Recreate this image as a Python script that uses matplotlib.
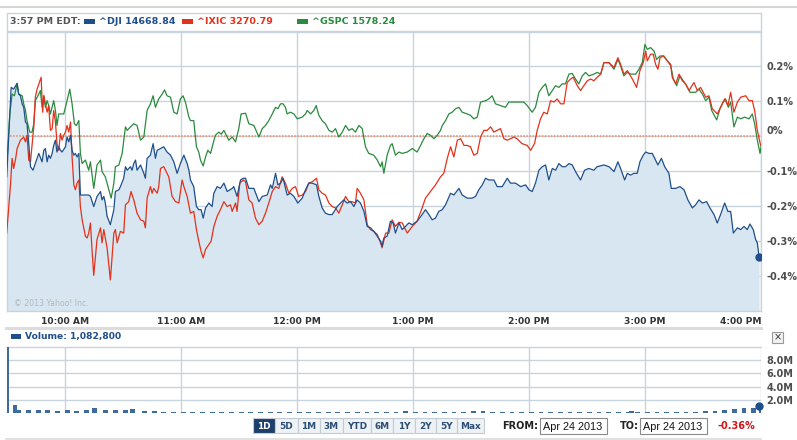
import matplotlib

matplotlib.use("Agg")
import matplotlib.pyplot as plt  # noqa: E402
import matplotlib.transforms as mtransforms  # noqa: E402
from matplotlib.lines import Line2D  # noqa: E402
from matplotlib.patches import Rectangle  # noqa: E402

# minutes after the 9:30 open, % change from the previous close
DJI_MIN = [
    0, 2.3, 3.6, 5.4, 6.2, 7.1, 8.0, 8.8, 9.7, 10.5, 11.4, 12.3, 13.6, 14.8, 16.6,
    18.3, 19.2, 20.0, 20.9, 21.7, 22.6, 23.5, 24.3, 25.2, 26.0, 26.9, 27.8, 28.6,
    30.4, 31.2, 32.1, 33.0, 33.8, 34.7, 35.5, 36.4, 37.3, 38.1, 39.8, 42.4, 43.3,
    45.0, 46.7, 48.5, 49.3, 50.2, 51.0, 51.9, 53.6, 55.4, 56.2, 58.0, 58.8, 60.5,
    61.4, 62.3, 64.0, 64.8, 65.7, 66.6, 67.4, 69.2, 70.9, 71.7, 72.6, 74.3, 75.7,
    76.9, 77.8, 79.5, 81.2, 82.9, 84.7, 86.4, 88.1, 89.8, 91.6, 93.3, 94.2, 95.0,
    96.7, 98.1, 99.3, 100.5, 101.6, 102.8, 104.5, 106.2, 107.1, 108.8, 110.5,
    112.3, 114.0, 116.6, 117.4, 119.1, 120.9, 122.3, 123.5, 125.2, 127.8, 130.4,
    132.1, 134.7, 136.4, 137.3, 139.0, 140.2, 141.6, 142.9, 145.0, 146.7, 148.5,
    150.5, 152.8, 154.5, 156.2, 158.0, 160.2, 161.4, 163.1, 164.8, 166.6, 168.3,
    170.9, 172.6, 174.3, 176.0, 177.8, 179.5, 181.2, 182.9, 184.7, 186.4, 188.1,
    189.8, 191.6, 193.3, 194.1, 195.0, 196.7, 198.4, 199.8, 201.0, 202.8, 204.5,
    206.2, 207.9, 209.7, 212.2, 214.8, 216.5, 218.3, 220.0, 221.7, 223.4, 225.2,
    226.9, 229.5, 231.2, 233.8, 235.5, 238.1, 240.7, 242.4, 244.1, 245.9, 247.6,
    249.3, 251.9, 253.6, 256.2, 258.8, 260.5, 263.1, 265.7, 268.3, 270.0, 271.7,
    273.4, 275.2, 276.9, 278.6, 280.3, 282.1, 283.8, 285.5, 287.2, 288.9, 290.7,
    292.4, 294.1, 296.7, 298.8, 301.0, 303.6, 305.3, 308.8, 311.4, 314.0, 316.0,
    317.4, 319.5, 320.9, 322.6, 324.3, 326.0, 327.4, 329.1, 330.4, 332.1, 333.8,
    335.5, 336.7, 338.5, 340.2, 342.4, 343.6, 345.9, 348.1, 350.2, 352.2, 354.5,
    356.2, 357.9, 359.7, 361.9, 363.6, 365.7, 367.4, 369.1, 371.2, 372.9, 374.3,
    375.7, 377.8, 379.5, 381.2, 382.9, 384.3, 386.0, 387.2, 388.1, 389.0,
]
DJI_PCT = [
    -0.116, 0.140, 0.135, 0.152, 0.121, 0.116, 0.093, 0.083, 0.041, 0.036, -0.021,
    -0.087, -0.097, -0.078, -0.049, -0.073, -0.040, -0.035, -0.073, -0.054, -0.063,
    -0.049, -0.026, -0.011, -0.045, -0.030, -0.040, -0.045, -0.030, -0.002, -0.016,
    0.003, -0.040, -0.054, -0.049, -0.059, -0.049, -0.168, -0.168, -0.168, -0.172,
    -0.201, -0.172, -0.158, -0.182, -0.172, -0.191, -0.229, -0.253, -0.210, -0.158,
    -0.153, -0.144, -0.120, -0.087, -0.097, -0.087, -0.097, -0.078, -0.068, -0.097,
    -0.082, -0.106, -0.120, -0.063, -0.054, -0.021, -0.063, -0.040, -0.035, -0.030,
    -0.045, -0.054, -0.073, -0.106, -0.078, -0.054, -0.078, -0.097, -0.125, -0.144,
    -0.201, -0.210, -0.210, -0.234, -0.205, -0.191, -0.201, -0.163, -0.144, -0.149,
    -0.134, -0.158, -0.149, -0.144, -0.172, -0.125, -0.120, -0.120, -0.149, -0.149,
    -0.187, -0.172, -0.168, -0.139, -0.149, -0.106, -0.139, -0.134, -0.120, -0.168,
    -0.163, -0.172, -0.191, -0.177, -0.153, -0.134, -0.134, -0.139, -0.172, -0.205,
    -0.220, -0.224, -0.224, -0.201, -0.191, -0.182, -0.191, -0.187, -0.201, -0.182,
    -0.191, -0.215, -0.258, -0.262, -0.272, -0.286, -0.300, -0.314, -0.291, -0.286,
    -0.243, -0.248, -0.277, -0.248, -0.267, -0.258, -0.248, -0.253, -0.243, -0.224,
    -0.210, -0.224, -0.239, -0.234, -0.215, -0.210, -0.196, -0.163, -0.168, -0.149,
    -0.168, -0.177, -0.177, -0.172, -0.153, -0.139, -0.120, -0.125, -0.125, -0.144,
    -0.144, -0.120, -0.134, -0.134, -0.144, -0.139, -0.153, -0.158, -0.134, -0.097,
    -0.087, -0.082, -0.125, -0.092, -0.097, -0.078, -0.087, -0.087, -0.078, -0.082,
    -0.101, -0.125, -0.097, -0.092, -0.097, -0.087, -0.082, -0.087, -0.101, -0.073,
    -0.092, -0.125, -0.106, -0.111, -0.106, -0.106, -0.073, -0.054, -0.045, -0.049,
    -0.049, -0.068, -0.082, -0.063, -0.087, -0.106, -0.149, -0.149, -0.144, -0.153,
    -0.182, -0.205, -0.196, -0.182, -0.191, -0.187, -0.205, -0.224, -0.248, -0.224,
    -0.191, -0.215, -0.215, -0.277, -0.262, -0.267, -0.258, -0.267, -0.251, -0.267,
    -0.295, -0.305, -0.345,
]

IXIC_MIN = [
    0, 1.9, 2.8, 3.6, 4.5, 5.4, 7.1, 8.8, 9.7, 10.5, 11.4, 12.3, 14.0, 14.8, 15.7,
    16.6, 17.8, 18.6, 19.2, 20.0, 20.9, 21.7, 22.6, 23.5, 24.3, 25.2, 26.0, 26.9,
    27.8, 28.6, 29.5, 30.4, 31.2, 32.1, 33.0, 33.8, 34.7, 35.5, 36.4, 37.3, 38.1,
    39.0, 40.7, 41.6, 42.4, 43.3, 44.1, 45.0, 46.7, 48.5, 49.3, 50.2, 51.9, 53.6,
    55.4, 56.2, 57.1, 58.8, 60.5, 61.4, 63.1, 64.3, 65.7, 67.4, 69.2, 70.9, 71.7,
    72.6, 74.3, 75.2, 76.0, 77.8, 78.6, 79.5, 81.2, 82.1, 83.8, 85.5, 87.3, 89.0,
    90.7, 91.6, 93.3, 95.0, 96.7, 98.1, 99.3, 100.5, 101.6, 102.8, 104.5, 105.7,
    107.1, 108.8, 110.5, 112.3, 114.0, 115.7, 116.6, 118.3, 119.1, 120.5, 122.3,
    123.5, 125.2, 126.9, 128.6, 130.4, 132.1, 133.8, 135.5, 137.3, 139.0, 140.7,
    142.4, 144.1, 145.9, 147.6, 149.3, 151.0, 152.8, 154.5, 156.2, 158.0, 160.2,
    161.4, 163.1, 164.8, 166.6, 168.3, 170.0, 171.7, 173.5, 175.2, 176.9, 178.6,
    180.3, 181.2, 182.9, 184.7, 186.4, 188.1, 189.8, 191.6, 193.3, 194.1, 195.9,
    197.6, 199.3, 201.0, 202.8, 204.5, 207.1, 209.7, 212.2, 214.8, 216.5, 219.1,
    221.7, 224.3, 226.0, 227.8, 229.5, 231.2, 233.0, 234.7, 236.4, 238.1, 239.8,
    241.5, 243.3, 245.0, 246.7, 248.4, 250.2, 251.9, 253.6, 255.3, 257.1, 258.8,
    260.5, 262.2, 263.9, 266.5, 269.1, 270.9, 272.9, 274.3, 276.0, 277.7, 279.5,
    281.2, 282.9, 284.6, 286.4, 288.1, 289.8, 291.5, 292.9, 295.0, 296.7, 298.4,
    300.2, 301.9, 303.6, 305.3, 307.1, 308.8, 311.4, 314.0, 316.0, 317.4, 319.1,
    320.9, 323.5, 325.7, 327.4, 329.1, 330.4, 331.2, 332.9, 334.3, 335.5, 336.7,
    337.8, 339.5, 341.6, 343.3, 344.1, 345.9, 347.6, 349.3, 351.0, 352.8, 355.3,
    357.1, 358.8, 361.4, 363.1, 364.8, 367.4, 369.1, 371.2, 372.9, 374.3, 376.0,
    377.8, 379.5, 382.1, 383.8, 385.5, 386.7, 388.1, 389.8,
]
IXIC_PCT = [
    -0.277, -0.144, -0.063, -0.092, -0.068, -0.035, -0.011, -0.002, -0.016, 0.003,
    -0.068, -0.073, 0.027, 0.112, 0.135, 0.150, 0.169, 0.069, 0.116, 0.093, 0.069,
    0.088, 0.017, 0.022, 0.074, 0.041, -0.021, -0.040, 0.008, -0.011, 0.003, 0.012,
    0.031, 0.012, 0.041, -0.059, -0.139, -0.153, -0.134, -0.125, -0.201, -0.239,
    -0.286, -0.291, -0.277, -0.248, -0.324, -0.398, -0.295, -0.262, -0.305, -0.267,
    -0.319, -0.411, -0.277, -0.267, -0.305, -0.272, -0.277, -0.196, -0.187, -0.158,
    -0.182, -0.220, -0.239, -0.243, -0.262, -0.177, -0.144, -0.163, -0.149, -0.163,
    -0.144, -0.092, -0.087, -0.097, -0.116, -0.172, -0.187, -0.191, -0.125, -0.144,
    -0.172, -0.220, -0.215, -0.267, -0.300, -0.329, -0.348, -0.324, -0.310, -0.300,
    -0.258, -0.229, -0.210, -0.187, -0.201, -0.196, -0.215, -0.191, -0.215, -0.134,
    -0.125, -0.130, -0.182, -0.191, -0.234, -0.253, -0.243, -0.220, -0.191, -0.158,
    -0.144, -0.149, -0.116, -0.134, -0.163, -0.149, -0.144, -0.172, -0.168, -0.158,
    -0.134, -0.130, -0.120, -0.153, -0.163, -0.168, -0.191, -0.201, -0.205, -0.220,
    -0.196, -0.172, -0.187, -0.187, -0.191, -0.149, -0.163, -0.182, -0.253, -0.267,
    -0.272, -0.281, -0.305, -0.319, -0.277, -0.277, -0.239, -0.258, -0.246, -0.248,
    -0.277, -0.258, -0.243, -0.205, -0.177, -0.158, -0.139, -0.116, -0.106, -0.063,
    -0.030, -0.059, -0.011, -0.007, -0.026, -0.026, -0.030, -0.054, -0.049, -0.002,
    0.017, 0.017, 0.027, 0.012, 0.017, 0.022, -0.007, -0.011, -0.007, -0.002, -0.007,
    -0.021, -0.026, -0.040, -0.021, 0.017, 0.050, 0.069, 0.064, 0.102, 0.098, 0.107,
    0.093, 0.093, 0.154, 0.164, 0.169, 0.145, 0.131, 0.145, 0.159, 0.164, 0.159,
    0.169, 0.178, 0.211, 0.211, 0.197, 0.225, 0.206, 0.178, 0.188, 0.164, 0.140,
    0.188, 0.211, 0.244, 0.216, 0.235, 0.235, 0.206, 0.192, 0.225, 0.230, 0.216,
    0.206, 0.169, 0.150, 0.178, 0.159, 0.150, 0.131, 0.154, 0.131, 0.140, 0.112,
    0.116, 0.079, 0.064, 0.083, 0.107, 0.088, 0.126, 0.069, 0.098, 0.112, 0.116,
    0.102, 0.102, 0.074, 0.017, -0.026,
]

GSPC_MIN = [
    0, 1.6, 2.8, 4.0, 5.4, 6.2, 8.0, 8.8, 9.7, 10.5, 11.9, 13.1, 14.0, 14.8, 16.6,
    17.4, 18.3, 19.2, 20.0, 20.9, 21.7, 22.6, 24.3, 25.2, 26.0, 26.9, 27.8, 29.5,
    31.2, 32.6, 33.8, 35.0, 36.0, 37.3, 38.1, 39.0, 40.7, 42.4, 43.3, 45.0, 46.7,
    48.5, 49.3, 51.0, 52.8, 54.0, 55.4, 56.2, 58.0, 59.7, 61.4, 62.3, 64.0, 65.7,
    67.4, 69.2, 70.9, 72.6, 74.3, 75.7, 76.9, 78.6, 80.4, 81.6, 82.9, 84.7, 86.4,
    88.1, 89.8, 91.2, 92.4, 94.2, 95.0, 96.7, 98.1, 99.3, 100.2, 101.6, 102.8,
    104.0, 105.4, 106.7, 107.9, 109.7, 110.9, 112.3, 113.1, 114.8, 116.6, 118.3,
    120.0, 121.2, 123.5, 125.2, 127.8, 130.4, 132.1, 133.8, 135.5, 137.3, 139.0,
    140.2, 141.6, 142.9, 144.1, 145.0, 146.7, 148.5, 150.2, 152.8, 154.5, 155.4,
    157.1, 158.8, 160.0, 161.4, 163.1, 164.8, 166.6, 168.3, 170.0, 171.7, 173.5,
    175.2, 176.9, 178.6, 180.3, 182.1, 183.8, 185.5, 187.2, 189.8, 191.6, 193.3,
    194.1, 195.0, 196.7, 198.4, 199.3, 201.0, 202.8, 204.5, 207.1, 209.7, 212.2,
    214.0, 215.7, 217.4, 219.1, 220.9, 222.6, 224.3, 225.2, 226.9, 228.6, 230.3,
    232.1, 233.8, 235.5, 238.1, 239.8, 241.5, 243.3, 245.0, 247.6, 249.3, 251.0,
    252.7, 255.3, 257.9, 259.6, 262.2, 264.8, 267.4, 269.1, 271.7, 273.4, 275.2,
    276.9, 278.6, 280.3, 282.1, 283.8, 285.5, 287.2, 288.9, 290.7, 292.4, 294.1,
    295.8, 297.6, 299.3, 301.0, 303.6, 305.3, 307.1, 308.8, 311.4, 314.0, 316.0,
    317.4, 319.1, 320.9, 322.6, 325.2, 326.9, 328.6, 330.0, 331.2, 332.9, 334.7,
    336.0, 337.8, 339.8, 341.6, 343.3, 344.7, 346.4, 348.1, 349.8, 351.5, 353.3,
    356.2, 357.9, 359.7, 361.4, 363.1, 364.5, 367.1, 368.8, 370.5, 371.7, 373.1,
    374.3, 376.0, 377.8, 379.5, 381.5, 383.8, 385.5, 386.7, 388.1, 389.5, 390.0,
]
GSPC_PCT = [
    -0.087, 0.064, 0.121, 0.116, 0.150, 0.121, 0.116, 0.093, 0.074, 0.045, 0.012,
    0.012, 0.036, 0.102, 0.121, 0.131, 0.083, 0.116, 0.083, 0.102, 0.088, 0.064,
    0.102, 0.074, 0.031, 0.064, 0.064, 0.064, 0.102, 0.135, 0.093, 0.036, 0.031,
    0.045, -0.049, -0.078, -0.068, -0.097, -0.073, -0.149, -0.082, -0.068, -0.101,
    -0.116, -0.153, -0.177, -0.134, -0.087, -0.082, -0.049, 0.027, 0.017, 0.027,
    0.036, 0.031, -0.011, -0.002, 0.074, 0.093, 0.116, 0.083, 0.107, 0.121, 0.133,
    0.116, 0.112, 0.069, 0.064, 0.107, 0.116, 0.098, 0.055, 0.045, 0.045, -0.030,
    -0.045, -0.068, -0.085, -0.059, -0.040, -0.049, -0.021, 0.003, 0.012, 0.006,
    0.017, 0.008, -0.011, -0.002, -0.016, 0.022, 0.064, 0.066, 0.036, 0.031, -0.002,
    0.022, 0.031, 0.045, 0.064, 0.083, 0.079, 0.093, 0.093, 0.083, 0.064, 0.069,
    0.064, 0.050, 0.055, 0.064, 0.074, 0.064, 0.074, 0.088, 0.060, 0.045, 0.036,
    0.017, 0.012, 0.022, -0.002, 0.012, 0.031, 0.017, 0.022, 0.012, 0.031, 0.022,
    -0.030, -0.049, -0.054, -0.068, -0.087, -0.073, -0.106, -0.054, -0.026, -0.021,
    -0.054, -0.045, -0.049, -0.045, -0.035, -0.045, -0.026, -0.007, 0.008, 0.003,
    -0.007, 0.003, 0.017, 0.031, 0.045, 0.064, 0.069, 0.079, 0.083, 0.069, 0.064,
    0.060, 0.050, 0.055, 0.098, 0.102, 0.107, 0.116, 0.093, 0.088, 0.083, 0.098,
    0.098, 0.098, 0.098, 0.088, 0.069, 0.083, 0.126, 0.140, 0.150, 0.116, 0.131,
    0.145, 0.140, 0.150, 0.150, 0.178, 0.180, 0.164, 0.150, 0.173, 0.183, 0.173,
    0.178, 0.183, 0.178, 0.211, 0.211, 0.192, 0.220, 0.202, 0.173, 0.183, 0.178,
    0.178, 0.192, 0.211, 0.263, 0.249, 0.254, 0.244, 0.220, 0.230, 0.230, 0.216,
    0.202, 0.164, 0.145, 0.173, 0.159, 0.145, 0.126, 0.126, 0.135, 0.121, 0.102,
    0.112, 0.074, 0.047, 0.079, 0.098, 0.107, 0.083, 0.098, 0.027, 0.055, 0.050,
    0.055, 0.050, 0.064, 0.036, -0.011, -0.049, -0.030,
]

# volume, millions of shares (the opening print runs off the top)
VOL_MIN = [
    0, 3, 5, 10, 15, 20, 25, 30, 35, 40, 44, 50, 55, 60, 64, 70, 75, 80, 85, 90,
    95, 100, 105, 110, 115, 120, 125, 130, 135, 140, 145, 150, 155, 160, 165, 170,
    175, 180, 185, 190, 195, 200, 205, 210, 215, 220, 225, 230, 235, 240, 245, 250,
    255, 260, 265, 270, 275, 280, 285, 290, 295, 300, 305, 310, 315, 320, 322, 325,
    330, 335, 340, 345, 350, 355, 360, 365, 370, 375, 380, 385, 389,
]
VOL_M = [
    14.0, 1.2, 0.55, 0.5, 0.5, 0.45, 0.4, 0.45, 0.4, 0.45, 0.75, 0.45, 0.45, 0.45,
    0.65, 0.3, 0.35, 0.25, 0.2, 0.2, 0.2, 0.2, 0.15, 0.2, 0.15, 0.2, 0.15, 0.15,
    0.2, 0.15, 0.15, 0.15, 0.15, 0.15, 0.15, 0.15, 0.15, 0.15, 0.2, 0.15, 0.15,
    0.15, 0.35, 0.15, 0.15, 0.2, 0.2, 0.25, 0.25, 0.3, 0.4, 0.2, 0.2, 0.15, 0.15,
    0.2, 0.2, 0.15, 0.15, 0.15, 0.15, 0.15, 0.15, 0.15, 0.15, 0.15, 0.35, 0.2,
    0.15, 0.15, 0.15, 0.15, 0.2, 0.25, 0.3, 0.35, 0.45, 0.6, 0.75, 0.85, 1.08,
]

HOUR_TICKS = [30, 90, 150, 210, 270, 330, 390]
HOUR_LABELS = ["10:00 AM", "11:00 AM", "12:00 PM", "1:00 PM", "2:00 PM", "3:00 PM", "4:00 PM"]
PCT_TICKS = [0.2, 0.1, 0.0, -0.1, -0.2, -0.3, -0.4]
PCT_LABELS = ["0.2%", "0.1%", "0%", "-0.1%", "-0.2%", "-0.3%", "-0.4%"]
VOL_TICKS = [2, 4, 6, 8]
VOL_LABELS = ["2.0M", "4.0M", "6.0M", "8.0M"]

LEGEND_TIME = "3:57 PM EDT:"
LEGEND_ITEMS = ["^DJI 14668.84", "^IXIC 3270.79", "^GSPC 1578.24"]
VOLUME_LABEL = "Volume: 1,082,800"
RANGE_BUTTONS = ["1D", "5D", "1M", "3M", "YTD", "6M", "1Y", "2Y", "5Y", "Max"]
DATE_FROM = "Apr 24 2013"
DATE_TO = "Apr 24 2013"
CHANGE_TEXT = "-0.36%"

BLUE = "#1f4f8b"
RED = "#e3321b"
GREEN = "#2b8a3e"
FILL = "#d7e6f1"
GRID = "#c8d4dd"
LABEL = "#4d4d4d"

W, H = 797, 440


def fx(px):
    return px / W


def fy(py):
    return 1 - py / H


def fig_rect(fig, x0, y0, x1, y1, **kw):
    fig.add_artist(
        Rectangle((fx(x0), fy(y1)), fx(x1) - fx(x0), (y1 - y0) / H,
                  transform=fig.transFigure, **kw)
    )


def fig_hline(fig, y, x0, x1, **kw):
    fig.add_artist(Line2D([fx(x0), fx(x1)], [fy(y), fy(y)], transform=fig.transFigure, **kw))


def style_axes(ax):
    for side in ("left", "right", "top", "bottom"):
        ax.spines[side].set_color(GRID)
        ax.spines[side].set_linewidth(1.0)
    ax.grid(True, color=GRID, linewidth=1.0)
    ax.set_axisbelow(True)
    ax.tick_params(length=0)


fig = plt.figure(figsize=(W / 100, H / 100), dpi=100)
fig.patch.set_facecolor("white")

# frame lines around the widget
fig_hline(fig, 6.7, 0, W, color="#d6d6d6", linewidth=1.5)
fig_rect(fig, 6.5, 13, 761, 31.5, facecolor="white", edgecolor=GRID, linewidth=1.0)
fig_hline(fig, 328, 6, 761, color="#dcdcdc", linewidth=2.2)
fig_hline(fig, 438.5, 6, 761, color="#dcdcdc", linewidth=1.2)

# main price panel
ax = fig.add_axes([fx(6.7), fy(311), fx(761) - fx(6.7), (311 - 31.5) / H])
style_axes(ax)
ax.set_xlim(0, 390)
ax.set_ylim(-0.5, 0.3)
ax.fill_between(DJI_MIN, DJI_PCT, -0.5, color=FILL, linewidth=0, zorder=1)
ax.axhline(0, color="#f0875a", linewidth=1.1, linestyle=(0, (1, 1)), zorder=2)
ax.plot(GSPC_MIN, GSPC_PCT, color=GREEN, linewidth=0.9, zorder=3)
ax.plot(IXIC_MIN, IXIC_PCT, color=RED, linewidth=0.9, zorder=4)
ax.plot(DJI_MIN, DJI_PCT, color=BLUE, linewidth=0.9, zorder=5)
ax.plot(DJI_MIN[-1], DJI_PCT[-1], "o", color=BLUE, markersize=5, zorder=6)

ax.set_yticks(PCT_TICKS)
ax.set_yticklabels(PCT_LABELS)
ax.yaxis.tick_right()
ax.tick_params(axis="y", pad=4, labelsize=7, labelcolor=LABEL)
for lab in ax.get_yticklabels():
    lab.set_fontweight("bold")
    if lab.get_text() == "0%":
        lab.set_transform(lab.get_transform() + mtransforms.ScaledTranslation(0, 6 / 100, fig.dpi_scale_trans))

ax.set_xticks(HOUR_TICKS)
ax.set_xticklabels(HOUR_LABELS)
ax.tick_params(axis="x", pad=4, labelsize=6.6, labelcolor="#333333")
for lab in ax.get_xticklabels():
    lab.set_fontweight("bold")
ax.get_xticklabels()[-1].set_horizontalalignment("right")

ax.text(4, -0.478, "\u00a9 2013 Yahoo! Inc.", fontsize=5.6, color="#b3b8bd", va="center")

# legend row
fig.text(fx(10), fy(22), LEGEND_TIME, fontsize=6.8, fontweight="bold", color="#555555", va="center")
legend_colors = [BLUE, RED, GREEN]
legend_x = [84, 182, 297]
for name, color, x0 in zip(LEGEND_ITEMS, legend_colors, legend_x):
    fig_rect(fig, x0, 19.5, x0 + 11, 24.5, facecolor=color, edgecolor="none")
    fig.text(fx(x0 + 15), fy(22), name, fontsize=6.8, fontweight="bold", color=color, va="center")

# volume panel
vax = fig.add_axes([fx(6.7), fy(413.3), fx(761) - fx(6.7), (413.3 - 346.7) / H])
style_axes(vax)
vax.spines["left"].set_visible(False)
vax.spines["right"].set_visible(False)
vax.spines["bottom"].set_visible(False)
vax.set_xlim(0, 390)
vax.set_ylim(0, 10)
bar_widths = [1.0] + [2.5] * (len(VOL_MIN) - 1)
vax.bar(VOL_MIN, VOL_M, width=bar_widths, align="edge", color="#3e6a9e", linewidth=0, zorder=3)
vax.plot(VOL_MIN[-1], VOL_M[-1], "o", color=BLUE, markersize=5, zorder=4, clip_on=False)
vax.set_xticks(HOUR_TICKS)
vax.set_xticklabels([])
vax.set_yticks(VOL_TICKS)
vax.set_yticklabels(VOL_LABELS)
vax.yaxis.tick_right()
vax.tick_params(axis="y", pad=4, labelsize=7, labelcolor=LABEL)
for lab in vax.get_yticklabels():
    lab.set_fontweight("bold")

fig_rect(fig, 11, 334, 20.5, 338.5, facecolor=BLUE, edgecolor="none")
fig.text(fx(25), fy(336.5), VOLUME_LABEL, fontsize=6.6, fontweight="bold", color=BLUE, va="center")

# close box
fig_rect(fig, 772, 332, 783, 343, facecolor="#f2f2f2", edgecolor="#9a9a9a", linewidth=0.8)
fig.text(fx(777.5), fy(337.5), "\u00d7", fontsize=7, color="#333333", ha="center", va="center")

# range buttons
button_edges = [253.3, 275.3, 297.7, 320, 342.7, 371, 393.3, 415, 436, 457.3, 484.3]
for i, name in enumerate(RANGE_BUTTONS):
    x0, x1 = button_edges[i], button_edges[i + 1]
    selected = i == 0
    fig_rect(fig, x0, 418.3, x1, 433.3,
             facecolor="#1d3f6b" if selected else "#eef2f5",
             edgecolor="#c3ccd4", linewidth=0.8)
    fig.text(fx((x0 + x1) / 2), fy(426), name, fontsize=6.4, fontweight="bold",
             color="white" if selected else "#2b4e77", ha="center", va="center")

fig.text(fx(502), fy(426), "FROM:", fontsize=7, fontweight="bold", color="#222222", va="center")
fig_rect(fig, 540, 418.3, 607.3, 434.3, facecolor="white", edgecolor="#8a8a8a", linewidth=0.8)
fig.text(fx(543), fy(426.5), DATE_FROM, fontsize=7.8, family="Liberation Sans", color="#111111", va="center")
fig.text(fx(620), fy(426), "TO:", fontsize=7, fontweight="bold", color="#222222", va="center")
fig_rect(fig, 640, 418.3, 706.7, 434.3, facecolor="white", edgecolor="#8a8a8a", linewidth=0.8)
fig.text(fx(643), fy(426.5), DATE_TO, fontsize=7.8, family="Liberation Sans", color="#111111", va="center")
fig.text(fx(718), fy(426), CHANGE_TEXT, fontsize=7, fontweight="bold", color="#d0161b", va="center")

fig.savefig("out.png", dpi=100)
plt.close(fig)
